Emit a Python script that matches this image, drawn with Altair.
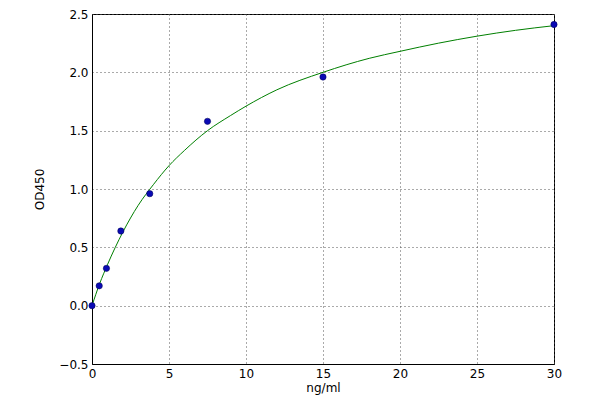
import altair as alt
import pandas as pd

# measured standards
conc = [0.0, 0.469, 0.938, 1.875, 3.75, 7.5, 15.0, 30.0]
od = [0.0, 0.17, 0.32, 0.64, 0.96, 1.58, 1.96, 2.41]

# fitted curve
curve_x = [0, 0.5, 1, 2, 3, 4, 5, 6, 7.5, 9, 10, 12, 15, 18, 20, 22.5, 25, 27.5, 30]
curve_y = [0.0, 0.19, 0.35, 0.63, 0.86, 1.04, 1.20, 1.33, 1.50, 1.63, 1.71, 1.85,
           2.00, 2.12, 2.18, 2.25, 2.31, 2.36, 2.40]

pts = pd.DataFrame({"x": conc, "y": od})
cur = pd.DataFrame({"x": curve_x, "y": curve_y})

font = "DejaVu Sans"

xs = alt.Scale(domain=[0, 30], nice=False, zero=False)
ys = alt.Scale(domain=[-0.5, 2.5], nice=False, zero=False)

xax = alt.Axis(values=[0, 5, 10, 15, 20, 25, 30], title="ng/ml", format="d",
               grid=True, gridDash=[1, 3], gridColor="#555", gridWidth=1,
               ticks=False, labelPadding=4, domainColor="black",
               labelFont=font, labelFontSize=12, labelColor="black",
               labelFlush=False, labelOverlap=False,
               titleFont=font, titleFontSize=12, titleFontWeight="normal",
               titleColor="black", titlePadding=3)
yax = alt.Axis(values=[-0.5, 0, 0.5, 1.0, 1.5, 2.0, 2.5], title="OD450", format=".1f",
               grid=True, gridDash=[1, 3], gridColor="#555", gridWidth=1,
               ticks=False, labelPadding=4, domainColor="black",
               labelFont=font, labelFontSize=12, labelColor="black",
               labelFlush=False, labelOverlap=False,
               titleFont=font, titleFontSize=12, titleFontWeight="normal",
               titleColor="black", titlePadding=12)

line = alt.Chart(cur).mark_line(color="#007f00", strokeWidth=1, clip=True,
                                interpolate="monotone").encode(
    x=alt.X("x:Q", scale=xs, axis=xax),
    y=alt.Y("y:Q", scale=ys, axis=yax),
)
points = alt.Chart(pts).mark_point(filled=True, color="#0a0ab4", size=40,
                                   opacity=1, stroke="#000050", strokeWidth=0.5,
                                   clip=False).encode(
    x=alt.X("x:Q", scale=xs),
    y=alt.Y("y:Q", scale=ys),
)

chart = (line + points).properties(
    width=462, height=350,
    autosize=alt.AutoSizeParams(type="none"),
    padding={"left": 84, "top": 6, "right": 30, "bottom": 36},
    background="white",
).configure_view(stroke="black", strokeWidth=1)

chart.save("out.html", embed_options={"renderer": "svg", "actions": False})
